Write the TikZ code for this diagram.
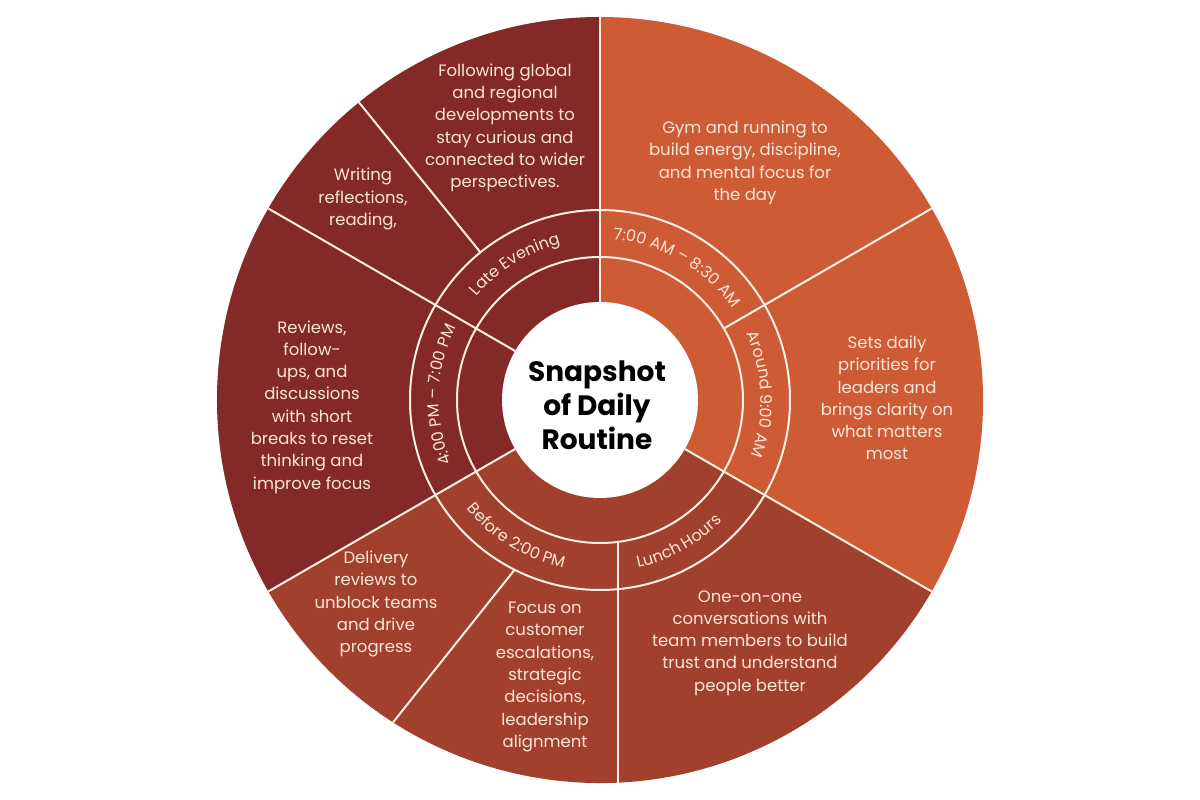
\documentclass[tikz,border=0pt]{standalone}
\usepackage{fontspec}
\setmainfont{Poppins}
\usetikzlibrary{decorations.text}
\definecolor{orangeseg}{HTML}{CD5C34}
\definecolor{brownseg}{HTML}{A1412D}
\definecolor{darkseg}{HTML}{832A28}
\definecolor{cream}{HTML}{FDF1E6}
\definecolor{creamtext}{HTML}{FBE6D6}
\newcommand{\ringfont}{\fontsize{16}{16}\selectfont}

\begin{document}
\begin{tikzpicture}[x=1pt,y=1pt,
	sep/.style={cream, line width=2pt},
	body/.style={text=creamtext, align=center, inner sep=0pt, font=\fontsize{16.5}{22.3}\selectfont},
	ring/.style={decorate, decoration={text along path, text align=center, text color=creamtext}}]
	\useasboundingbox (-600,-400) rectangle (600,400);
	
	%Setores
	\fill[orangeseg] (0,0) -- (-30:383) arc[start angle=-30, end angle=90, radius=383] -- cycle;
	\fill[brownseg] (0,0) -- (-150:383) arc[start angle=-150, end angle=-30, radius=383] -- cycle;
	\fill[darkseg] (0,0) -- (90:383) arc[start angle=90, end angle=210, radius=383] -- cycle;
	
	%Divisoes
	\draw[sep] (90:98) -- (90:383);
	\draw[sep] (30:143) -- (30:383);
	\draw[sep] (-30:98) -- (-30:383);
	\draw[sep] (18,-141.9) -- (18,-382.6);
	\draw[sep] (-116.7:190) -- (-122.7:383);
	\draw[sep] (210:98) -- (210:383);
	\draw[sep] (150:98) -- (150:383);
	\draw[sep] (129:190) -- (129:383);
	\draw[sep] (0,0) circle (143);
	\draw[sep] (0,0) circle (190);
	\fill[white] (0,0) circle (98);
	
	%Anel de horarios
	\path[ring, decoration={text={|\ringfont|7:00 AM {\textendash} 8:30 AM}}] (90:161) arc[start angle=90, end angle=30, radius=161];
	\path[ring, decoration={text={|\ringfont|Around 9:00 AM}}] (32:161) arc[start angle=32, end angle=-28, radius=161];
	\path[ring, decoration={text={|\ringfont|Lunch Hours}}] (-91:172) arc[start angle=-91, end angle=-31, radius=172];
	\path[ring, decoration={text={|\ringfont|Before 2:00 PM}}] (-151.5:172) arc[start angle=-151.5, end angle=-91.5, radius=172];
	\path[ring, decoration={text={|\ringfont|4:00 PM {\textendash} 7:00 PM}}] (208:161) arc[start angle=208, end angle=148, radius=161];
	\path[ring, decoration={text={|\ringfont|Late Evening}}] (152:161) arc[start angle=152, end angle=92, radius=161];
	
	%Textos
	\node[font=\bfseries\fontsize{28}{34}\selectfont, align=center, text=black, inner sep=0pt] (title) at (-3,-5) {Snapshot\\of Daily\\Routine};
	\node[body] (gym) at (145,237) {Gym and running to\\build energy, discipline,\\and mental focus for\\the day};
	\node[body] (priorities) at (287,2) {Sets daily\\priorities for\\leaders and\\brings clarity on\\what matters\\most};
	\node[body] (oneonone) at (150,-243) {One-on-one\\conversations with\\team members to build\\trust and understand\\people better};
	\node[body] (focus) at (-55,-277) {Focus on\\customer\\escalations,\\strategic\\decisions,\\leadership\\alignment};
	\node[body] (delivery) at (-224,-204) {Delivery\\reviews to\\unblock teams\\and drive\\progress};
	\node[body] (reviews) at (-288,-7) {Reviews,\\follow-\\ups, and\\discussions\\with short\\breaks to reset\\thinking and\\improve focus};
	\node[body] (writing) at (-237,201) {Writing\\reflections,\\reading,};
	\node[body] (following) at (-95,272) {Following global\\and regional\\developments to\\stay curious and\\connected to wider\\perspectives.};
\end{tikzpicture}
\end{document}
